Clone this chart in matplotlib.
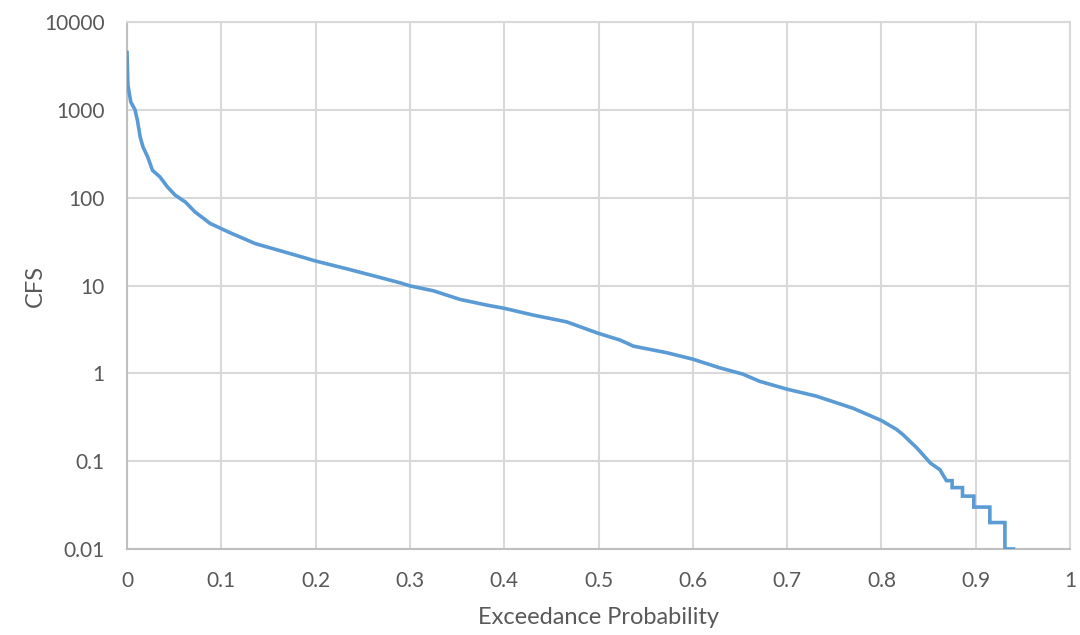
import matplotlib
matplotlib.use("Agg")
import matplotlib.pyplot as plt
from matplotlib.ticker import FixedLocator, FixedFormatter, NullLocator

# Flow duration curve
exceedance = [0.000, 0.001, 0.004, 0.0085, 0.011, 0.014, 0.017, 0.022, 0.027, 0.035,
              0.043, 0.051, 0.062, 0.072, 0.088, 0.109, 0.136, 0.183, 0.200, 0.236,
              0.265, 0.290, 0.300, 0.325, 0.353, 0.381, 0.400, 0.431, 0.466, 0.500,
              0.523, 0.537, 0.572, 0.600, 0.628, 0.653, 0.671, 0.700, 0.731, 0.770,
              0.800, 0.816, 0.823, 0.838, 0.852, 0.862, 0.869, 0.875, 0.875, 0.886,
              0.886, 0.898, 0.898, 0.915, 0.915, 0.931, 0.931, 0.940]
cfs = [4500, 1900, 1230, 1000, 765, 490, 377, 290, 205, 172,
       132, 107, 89, 69, 51, 40, 30, 21.5, 19.0, 15.2,
       12.6, 10.7, 9.9, 8.7, 6.95, 6.0, 5.5, 4.6, 3.86, 2.85,
       2.39, 2.04, 1.72, 1.45, 1.16, 0.98, 0.81, 0.66, 0.55, 0.40,
       0.29, 0.23, 0.20, 0.14, 0.095, 0.08, 0.06, 0.06, 0.05, 0.05,
       0.04, 0.04, 0.03, 0.03, 0.02, 0.02, 0.01, 0.01]

x_ticks = [0, 0.1, 0.2, 0.3, 0.4, 0.5, 0.6, 0.7, 0.8, 0.9, 1]
x_tick_labels = ["0", "0.1", "0.2", "0.3", "0.4", "0.5", "0.6", "0.7", "0.8", "0.9", "1"]
y_ticks = [0.01, 0.1, 1, 10, 100, 1000, 10000]
y_tick_labels = ["0.01", "0.1", "1", "10", "100", "1000", "10000"]
x_title = "Exceedance Probability"
y_title = "CFS"

plt.rcParams['font.family'] = ['Lato', 'DejaVu Sans']
text_color = "#595959"
grid_color = "#d9d9d9"
line_color = "#5b9bd5"

fig = plt.figure(figsize=(10.8, 6.35), dpi=100)
ax = fig.add_axes([127/1080, 1 - 549/635, (1070-127)/1080, (549-22)/635])

ax.plot(exceedance, cfs, color=line_color, linewidth=2.6, solid_joinstyle="miter", zorder=3)

ax.set_yscale("log")
ax.set_xlim(0, 1)
ax.set_ylim(0.01, 10000)
ax.xaxis.set_major_locator(FixedLocator(x_ticks))
ax.xaxis.set_major_formatter(FixedFormatter(x_tick_labels))
ax.yaxis.set_major_locator(FixedLocator(y_ticks))
ax.yaxis.set_major_formatter(FixedFormatter(y_tick_labels))
ax.yaxis.set_minor_locator(NullLocator())
ax.xaxis.set_minor_locator(NullLocator())

ax.grid(True, color=grid_color, linewidth=1.5, zorder=0)
for s in ax.spines.values():
    s.set_color(grid_color)
    s.set_linewidth(1.5)
ax.spines['left'].set_color("#bfbfbf")
ax.spines['bottom'].set_color("#bfbfbf")
ax.tick_params(axis="both", length=0, labelsize=15, colors=text_color)
ax.tick_params(axis="y", pad=16)
ax.tick_params(axis="x", pad=16)

ax.set_xlabel(x_title, fontsize=17, color=text_color, labelpad=6)
ax.set_ylabel(y_title, fontsize=17, color=text_color, labelpad=14)
ax.xaxis.set_label_coords(0.5, -(618 - 549) / 527, transform=ax.transAxes)
ax.xaxis.label.set_verticalalignment("center")
ax.yaxis.set_label_coords(-(127 - 35) / 943, 0.5, transform=ax.transAxes)
ax.yaxis.label.set_verticalalignment("center")

fig.savefig("out.png", dpi=100)
